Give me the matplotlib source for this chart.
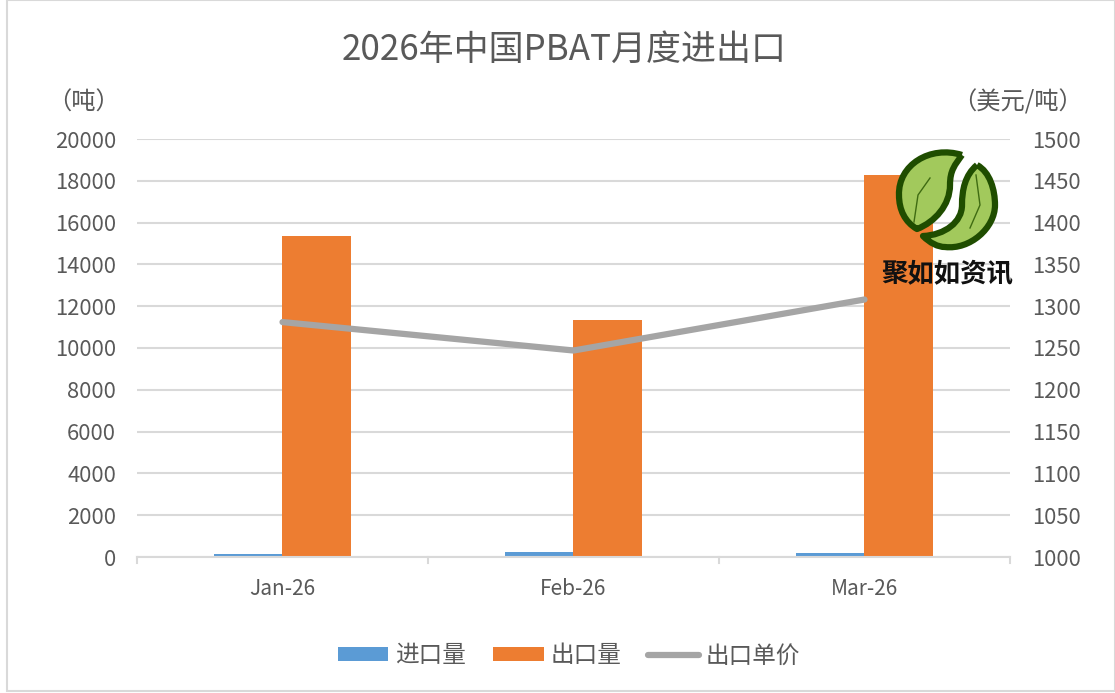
import matplotlib
matplotlib.use('Agg')
import matplotlib.pyplot as plt
import numpy as np
from matplotlib.patches import PathPatch, Rectangle
from matplotlib.path import Path

plt.rcParams['font.family']=['Noto Sans CJK SC','DejaVu Sans']

months=['Jan-26','Feb-26','Mar-26']
imports=[130,250,190]
exports=[15380,11330,18300]
prices=[1281,1247,1308]
left_ticks=list(range(0,20001,2000))
right_ticks=list(range(1000,1501,50))

W,H=1115,693
fig=plt.figure(figsize=(W/100,H/100),dpi=100)
#外框要放在最底層，不然會蓋住圖
fig.patches.append(Rectangle((7/W,1-691/H),1108/W,691/H,transform=fig.transFigure,fc='white',ec='#d9d9d9',lw=1.5,zorder=-1))

ax=fig.add_axes([137/W,1-557/H,873/W,418/H])
ax.set_facecolor('none')
x=np.arange(3)
ax.bar(x-0.12,imports,0.234,color='#5b9bd5',label='进口量')
ax.bar(x+0.117,exports,0.24,color='#ed7d31',label='出口量')
ax.set_xlim(-0.5,2.5)
ax.set_ylim(0,20000)
ax.set_yticks(left_ticks)
ax.set_xticks(x)
ax.set_xticklabels(months)
ax.grid(axis='y',color='#d9d9d9',lw=1.5)
ax.set_axisbelow(True)
ax.tick_params(axis='y',length=0,labelsize=15.8,labelcolor='#595959',pad=15)
ax.tick_params(axis='x',length=0,labelsize=15,labelcolor='#595959',pad=15)
for i in [-0.5,0.5,1.5,2.5]:
    ax.plot([i,i],[0,-270],color='#d9d9d9',lw=1.5,clip_on=False)
for s in ['top','left','right']:
    ax.spines[s].set_visible(False)
ax.spines['bottom'].set_color('#d9d9d9')
ax.spines['bottom'].set_linewidth(1.5)

ax2=ax.twinx()
ax2.plot(x,prices,color='#a5a5a5',lw=4.5,solid_capstyle='round',label='出口单价')
ax2.set_ylim(1000,1500)
ax2.set_yticks(right_ticks)
ax2.tick_params(axis='y',length=0,labelsize=15.8,labelcolor='#595959',pad=16)
for s in ax2.spines.values():
    s.set_visible(False)

fig.text(564/W,1-50/H,'2026年中国PBAT月度进出口',fontsize=25.2,color='#595959',ha='center',va='center')
fig.text(83.5/W,1-103/H,'（吨）',fontsize=17.5,color='#595959',ha='center',va='center')
fig.text(1017.5/W,1-103/H,'（美元/吨）',fontsize=17.5,color='#595959',ha='center',va='center')

#(legend)
h1,l1=ax.get_legend_handles_labels()
h2,l2=ax2.get_legend_handles_labels()
fig.legend(h1+h2,l1+l2,ncol=3,loc='center',bbox_to_anchor=(569/W,1-656/H),frameon=False,
           fontsize=17,labelcolor='#595959',handlelength=2.15,handleheight=0.5,columnspacing=1.15,handletextpad=0.28)

#(logo) 畫在最上層的透明座標
logo=fig.add_axes([0,0,1,1],zorder=5)
logo.set_xlim(0,W)
logo.set_ylim(H,0)
logo.axis('off')
def leaf(pts):
    codes=[Path.MOVETO]+[Path.CURVE4]*(len(pts)-1)
    logo.add_patch(PathPatch(Path(pts,codes),fc='#a2c95c',ec='#1f4d00',lw=4.5,joinstyle='round'))
leaf([(962,155),(930,145),(898,165),(899,195),(899,210),(905,222),(917,229),
      (935,222),(950,205),(950,185),(950,170),(955,165),(962,155)])
leaf([(977,165),(990,172),(995,190),(995,205),(995,228),(970,250),(945,247),
      (938,247),(930,243),(923,236),(945,235),(962,222),(962,205),(962,190),(965,175),(977,165)])
logo.plot([914,918,930],[222,195,178],color='#3f6b12',lw=1)
logo.plot([970,980,976],[228,205,175],color='#3f6b12',lw=1)
logo.text(947,275,'聚如如资讯',fontsize=19,fontweight='bold',color='#111111',ha='center',va='center')

fig.savefig('out.png',dpi=100)
